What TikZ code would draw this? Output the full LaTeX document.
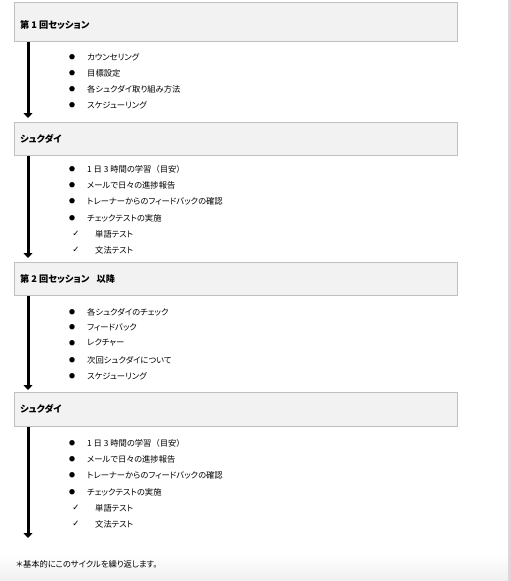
\documentclass[tikz,border=0pt]{standalone}
\usepackage{fontspec}
\setmainfont{Noto Sans CJK JP}[RawFeature=+palt]
\newfontfamily\fullfont{Noto Sans CJK JP}
\newfontfamily\symfont{DejaVu Sans}
\usetikzlibrary{arrows.meta}
\definecolor{boxfill}{HTML}{F2F2F2}
\definecolor{boxline}{HTML}{BFBFBF}
\tikzset{
  hbox/.style={draw=boxline, fill=boxfill, line width=0.8pt, rectangle, minimum width=443pt, anchor=north west, inner sep=0pt},
  htext/.style={anchor=west, font=\fontsize{9.2}{10}\selectfont\bfseries, inner sep=0pt},
  itemtext/.style={anchor=west, font=\fontsize{8.3}{10}\selectfont, inner sep=0pt},
  bul/.style={anchor=center, font=\fontsize{6}{7}\selectfont, inner sep=0pt},
  chk/.style={anchor=center, font=\symfont\fontsize{8.5}{9}\selectfont, inner sep=0pt},
  flow/.style={line width=3pt, -{Triangle[width=9pt,length=5pt]}},
}
\begin{document}
\begin{tikzpicture}[x=1pt,y=-1pt]
\useasboundingbox (0,0) rectangle (511,581);
\shade[top color=white, bottom color=black!6] (0,555) rectangle (511,581);
\fill[black!15] (508,0) rectangle (511,581);

% boxes
\node[hbox, minimum height=39pt] (b1) at (14,2) {};
\node[hbox, minimum height=33pt] (b2) at (14,122) {};
\node[hbox, minimum height=33pt] (b3) at (14,262) {};
\node[hbox, minimum height=34pt] (b4) at (14,392) {};

\node[htext] (h1) at (20,25) {第 1 回セッション};
\node[htext] (h2) at (20,138.5) {シュクダイ};
\node[htext] (h3) at (20,278.5) {第 2 回セッション\hspace{0.8em}以降};
\node[htext] (h4) at (20,409) {シュクダイ};

% arrows
\coordinate (t1) at (28,118);
\coordinate (t2) at (28,258);
\coordinate (t3) at (28,390);
\coordinate (t4) at (28,538);
\draw[flow] (b1.south west -| t1) -- (t1);
\draw[flow] (b2.south west -| t2) -- (t2);
\draw[flow] (b3.south west -| t3) -- (t3);
\draw[flow] (b4.south west -| t4) -- (t4);

% section 1 items
\node[bul] (p11) at (72,57) {●}; \node[itemtext] (i11) at (87,57) {カウンセリング};
\node[bul] (p12) at (72,73) {●}; \node[itemtext] (i12) at (87,73) {目標設定};
\node[bul] (p13) at (72,89) {●}; \node[itemtext] (i13) at (87,89) {各シュクダイ取り組み方法};
\node[bul] (p14) at (72,105) {●}; \node[itemtext] (i14) at (87,105) {スケジューリング};

% section 2 items
\node[bul] (p21) at (72,169) {●}; \node[itemtext] (i21) at (87,169) {1 日 3 時間の学習{\fullfont （目安）}};
\node[bul] (p22) at (72,185) {●}; \node[itemtext] (i22) at (87,185) {メールで日々の進捗報告};
\node[bul] (p23) at (72,201) {●}; \node[itemtext] (i23) at (87,201) {トレーナーからのフィードバックの確認};
\node[bul] (p24) at (72,218) {●}; \node[itemtext] (i24) at (87,218) {チェックテストの実施};
\node[chk] (c21) at (76,234) {✓}; \node[itemtext] (i25) at (95,234) {単語テスト};
\node[chk] (c22) at (76,250) {✓}; \node[itemtext] (i26) at (95,250) {文法テスト};

% section 3 items
\node[bul] (p31) at (72,312) {●}; \node[itemtext] (i31) at (87,312) {各シュクダイのチェック};
\node[bul] (p32) at (72,327) {●}; \node[itemtext] (i32) at (87,327) {フィードバック};
\node[bul] (p33) at (72,343) {●}; \node[itemtext] (i33) at (87,343) {レクチャー};
\node[bul] (p34) at (72,360) {●}; \node[itemtext] (i34) at (87,360) {次回シュクダイについて};
\node[bul] (p35) at (72,376) {●}; \node[itemtext] (i35) at (87,376) {スケジューリング};

% section 4 items
\node[bul] (p41) at (72,443) {●}; \node[itemtext] (i41) at (87,443) {1 日 3 時間の学習{\fullfont （目安）}};
\node[bul] (p42) at (72,459) {●}; \node[itemtext] (i42) at (87,459) {メールで日々の進捗報告};
\node[bul] (p43) at (72,475) {●}; \node[itemtext] (i43) at (87,475) {トレーナーからのフィードバックの確認};
\node[bul] (p44) at (72,492) {●}; \node[itemtext] (i44) at (87,492) {チェックテストの実施};
\node[chk] (c41) at (76,508) {✓}; \node[itemtext] (i45) at (95,508) {単語テスト};
\node[chk] (c42) at (76,524) {✓}; \node[itemtext] (i46) at (95,524) {文法テスト};

% footer
\node[itemtext] (foot) at (16,564) {＊基本的にこのサイクルを繰り返します。};
\end{tikzpicture}
\end{document}
